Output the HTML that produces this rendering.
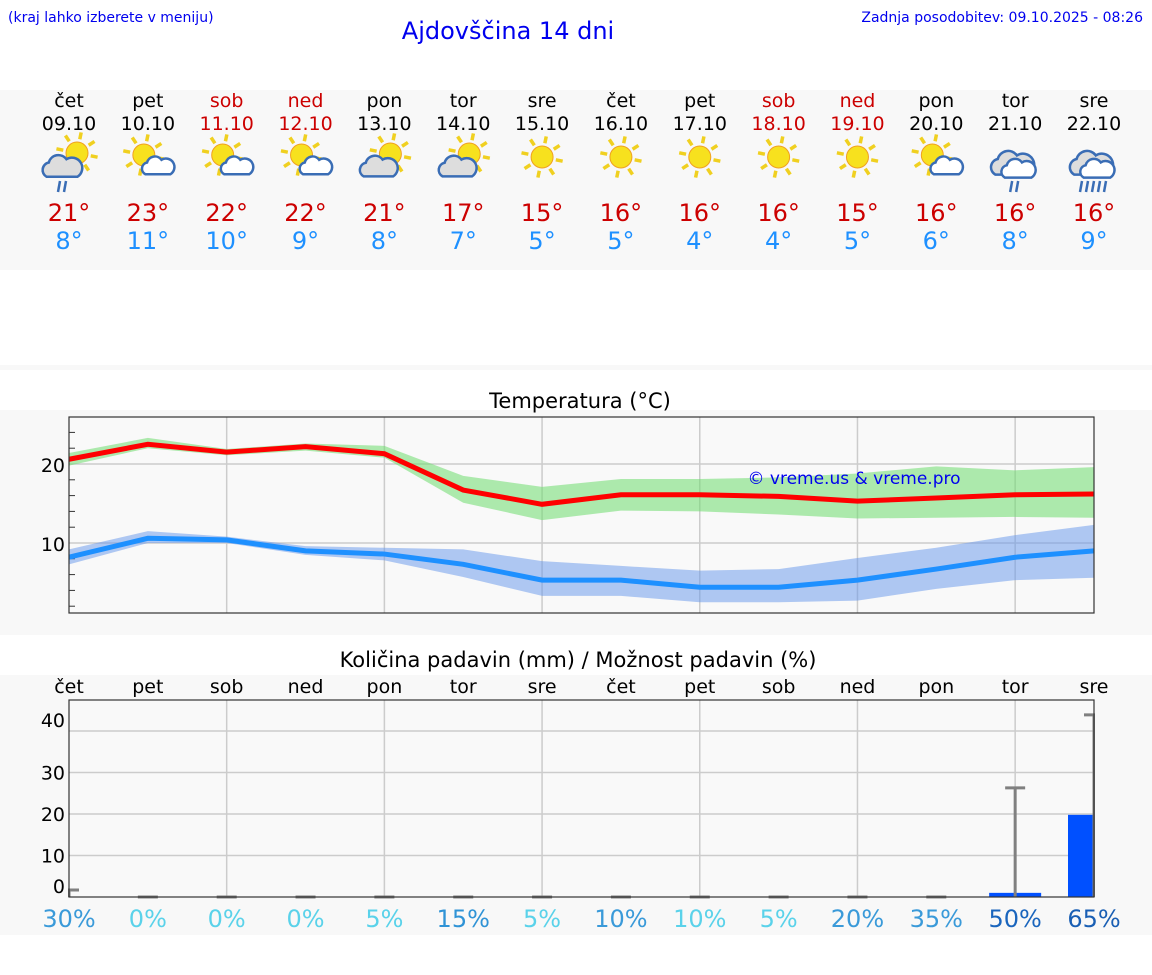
<!DOCTYPE html>
<html><head><meta charset="utf-8"><style>
body{margin:0;background:#fff;width:1152px;height:975px;overflow:hidden;font-family:"DejaVu Sans","Liberation Sans",sans-serif;}
svg{position:absolute;left:0;top:0}
</style></head><body>
<svg id="s" width="1152" height="975" xmlns="http://www.w3.org/2000/svg" font-family="DejaVu Sans, Liberation Sans, sans-serif">
<rect x="0" y="90" width="1152" height="180" fill="#f8f8f8"/>
<rect x="0" y="365" width="1152" height="5" fill="#f8f8f8"/>
<rect x="0" y="410" width="1152" height="225" fill="#f8f8f8"/>
<rect x="0" y="675" width="1152" height="260" fill="#f8f8f8"/>
<text x="8" y="22" font-size="14" fill="#0000ee">(kraj lahko izberete v meniju)</text>
<text x="508" y="39" font-size="24" fill="#0000ee" text-anchor="middle">Ajdovščina 14 dni</text>
<text x="1143" y="22" font-size="14" fill="#0000ee" text-anchor="end">Zadnja posodobitev: 09.10.2025 - 08:26</text>
<text x="580" y="408" font-size="21" fill="#000" text-anchor="middle">Temperatura (°C)</text>
<text x="578" y="667" font-size="21" fill="#000" text-anchor="middle">Količina padavin (mm) / Možnost padavin (%)</text>
<g id="topg"></g>
<g id="temp"></g>
<g id="prec"></g>
</svg>
<script>
const days=["čet","pet","sob","ned","pon","tor","sre","čet","pet","sob","ned","pon","tor","sre"];
const dates=["09.10","10.10","11.10","12.10","13.10","14.10","15.10","16.10","17.10","18.10","19.10","20.10","21.10","22.10"];
const weekend=[0,0,1,1,0,0,0,0,0,1,1,0,0,0];
const icons=["rainsun","partly","partly","partly","cloudsun","cloudsun","sun","sun","sun","sun","sun","partly","rain","rain2"];
const hiLabel=[21,23,22,22,21,17,15,16,16,16,15,16,16,16];
const loLabel=[8,11,10,9,8,7,5,5,4,4,5,6,8,9];
const tMax=[20.6,22.5,21.5,22.2,21.3,16.7,14.9,16.1,16.1,15.9,15.3,15.7,16.1,16.2];
const tMaxHi=[21.4,23.3,21.9,22.6,22.3,18.5,17.1,18.1,18.1,18.3,18.8,19.7,19.2,19.6];
const tMaxLow=[19.8,22.0,21.1,21.7,20.8,15.1,12.9,14.1,14.0,13.6,13.1,13.2,13.3,13.2];
const tMin=[8.2,10.6,10.4,9.0,8.6,7.3,5.3,5.3,4.4,4.4,5.3,6.7,8.2,9.0];
const tMinHi=[9.2,11.5,10.8,9.6,9.4,9.2,7.7,7.1,6.5,6.7,8.1,9.4,11.0,12.3];
const tMinLo=[7.3,10.0,10.0,8.5,7.8,5.7,3.3,3.3,2.5,2.5,2.7,4.2,5.3,5.6];
const tTicks=[10,20];
const rain=[0,0,0,0,0,0,0,0,0,0,0,0,1,19.8];
const rainErr=[1.7,0,0,0,0,0,0,0,0,0,0,0,26.3,43.9];
const chance=[30,0,0,0,5,15,5,10,10,5,20,35,50,65];
const chanceCol=["#3a9ad9","#5ad2ea","#5ad2ea","#5ad2ea","#5ad2ea","#2f93d6","#5ad2ea","#3a9ad9","#5ad2ea","#5ad2ea","#3a9ad9","#3a9ad9","#1a65bd","#1a5fb4"];
const pTicks=[0,10,20,30,40];

const NS="http://www.w3.org/2000/svg";
function mk(p,t,a,txt){const e=document.createElementNS(NS,t);for(const k in a)e.setAttribute(k,a[k]);if(txt!==undefined)e.textContent=txt;p.appendChild(e);return e;}
const X0=69,X1=1094,DX=(X1-X0)/13;
const xd=i=>X0+i*DX;
const yT=v=>622-v*7.9;
const yP=v=>897-v*4.15;

const topG=document.getElementById('topg');
function sun(g,cx,cy,r){for(let k=0;k<8;k++){const a=k*Math.PI/4+0.2;mk(g,'line',{x1:cx+Math.cos(a)*(r+3),y1:cy+Math.sin(a)*(r+3),x2:cx+Math.cos(a)*(r+10),y2:cy+Math.sin(a)*(r+10),stroke:'#f0d020','stroke-width':3.5});}
mk(g,'circle',{cx:cx,cy:cy,r:r,fill:'#f7e11e',stroke:'#f0a020','stroke-width':1});}
function cloud(g,cx,cy,s,fill){const p=`M${cx-14*s},${cy+8*s} a${7*s},${7*s} 0 0 1 ${2*s},${-13*s} a${9*s},${9*s} 0 0 1 ${16*s},${-3*s} a${7*s},${7*s} 0 0 1 ${10*s},${16*s} z`;mk(g,'path',{d:p,fill:fill,stroke:'#3a6db5','stroke-width':2.5});}
function drops(g,cx,cy,n){for(let k=0;k<n;k++)mk(g,'line',{x1:cx+k*6-n*3+3,y1:cy,x2:cx+k*6-n*3+1,y2:cy+11,stroke:'#3a6db5','stroke-width':2.5});}
for(let i=0;i<14;i++){
 const x=xd(i);
 const c=weekend[i]?'#cc0000':'#000';
 const t1=mk(topG,'text',{x:x,y:107,'font-size':19,fill:c,'text-anchor':'middle'},days[i]);
 
 
 const t2=mk(topG,'text',{x:x,y:130,'font-size':19,fill:c,'text-anchor':'middle'},dates[i]);
 
 
 const g=mk(topG,'g',{});
 
 
 const ic=icons[i];
 if(ic==='sun'){sun(g,x,157,11);}
 else if(ic==='partly'){sun(g,x-4,155,11);cloud(g,x+10,167,0.9,'#fff');}
 else if(ic==='cloudsun'){sun(g,x+6,154,11);cloud(g,x-6,168,1.05,'#ddd');}
 else if(ic==='rainsun'){sun(g,x+8,153,11);cloud(g,x-7,168,1.1,'#ddd');drops(g,x-6,181,2);}
 else {cloud(g,x-3,165,1.2,'#ddd');cloud(g,x+3,170,0.95,'#fff');drops(g,x,181,ic==='rain2'?5:2);}
 const h=mk(topG,'text',{x:x,y:221,'font-size':24,fill:'#cc0000','text-anchor':'middle'},hiLabel[i]+'°');
 
 
 const l=mk(topG,'text',{x:x,y:249,'font-size':24,fill:'#1e90ff','text-anchor':'middle'},loLabel[i]+'°');
 
 
}

const tg=document.getElementById('temp');
const pa=mk(tg,'rect',{x:X0,y:417,width:X1-X0,height:196,fill:'#f9f9f9',stroke:'none'});


for(let i=2;i<13;i+=2)mk(tg,'line',{x1:xd(i),y1:417,x2:xd(i),y2:613,stroke:'#ccc','stroke-width':1.5});
for(let v=2;v<=25;v+=2){ if(v%10)mk(tg,'line',{x1:X0,y1:yT(v),x2:X0+6,y2:yT(v),stroke:'#333'});}
tTicks.forEach(v=>{mk(tg,'line',{x1:X0,y1:yT(v),x2:X1,y2:yT(v),stroke:'#ccc','stroke-width':1.5});
 const t=mk(tg,'text',{x:X0-4,y:yT(v)+8,'font-size':19,'text-anchor':'end',fill:'#000'},String(v));
 
 });
function band(hi,lo,col,name){let d='';hi.forEach((v,i)=>d+=(i?'L':'M')+xd(i)+','+yT(v));for(let i=lo.length-1;i>=0;i--)d+='L'+xd(i)+','+yT(lo[i]);d+='Z';
 const p=mk(tg,'path',{d:d,fill:col});}
function line(a,col,name){const p=mk(tg,'polyline',{points:a.map((v,i)=>xd(i)+','+yT(v)).join(' '),fill:'none',stroke:col,'stroke-width':5});}
band(tMaxHi,tMaxLow,'rgba(110,220,110,0.55)','max-temp-range');
band(tMinHi,tMinLo,'rgba(100,150,235,0.5)','min-temp-range');
line(tMax,'#ff0000','max-temp-line');
line(tMin,'#1e90ff','min-temp-line');
const wm=mk(tg,'text',{x:854,y:484,'font-size':17,fill:'#0000ee','text-anchor':'middle'},'© vreme.us & vreme.pro');


mk(tg,'rect',{x:X0,y:417,width:X1-X0,height:196,fill:'none',stroke:'#333','stroke-width':1.2});

const pg=document.getElementById('prec');
mk(pg,'rect',{x:X0,y:700,width:X1-X0,height:197,fill:'#f9f9f9'});
for(let i=2;i<13;i+=2)mk(pg,'line',{x1:xd(i),y1:700,x2:xd(i),y2:897,stroke:'#ccc','stroke-width':1.5});
pTicks.forEach(v=>{ if(v>0)mk(pg,'line',{x1:X0,y1:yP(v),x2:X1,y2:yP(v),stroke:'#ccc','stroke-width':1.5});});
for(let i=0;i<14;i++){
 const x=xd(i);
 const d=mk(pg,'text',{x:x,y:693,'font-size':19,'text-anchor':'middle',fill:'#000'},days[i]);
 
 
 if(rain[i]>0){const b=mk(pg,'rect',{x:x-26,y:yP(rain[i]),width:52,height:897-yP(rain[i]),fill:'#0050ff'});
  
  }
 const e=mk(pg,'g',{});
 
 
 mk(e,'line',{x1:x,y1:897,x2:x,y2:yP(rainErr[i]),stroke:'#808080','stroke-width':3});
 mk(e,'line',{x1:x-10,y1:yP(rainErr[i]),x2:x+10,y2:yP(rainErr[i]),stroke:'#808080','stroke-width':3});
 const c=mk(pg,'text',{x:x,y:927,'font-size':24,'text-anchor':'middle',fill:chanceCol[i]},chance[i]+'%');
 
 
}
mk(pg,'rect',{x:0,y:700,width:X0-1,height:200,fill:'#f8f8f8'});
mk(pg,'rect',{x:X1+1,y:700,width:58,height:200,fill:'#f8f8f8'});
pTicks.forEach(v=>{const t=mk(pg,'text',{x:X0-4,y:yP(v)+(v===40?-4:(v===0?-4:7)),'font-size':19,'text-anchor':'end',fill:'#000'},String(v));
 
 });
mk(pg,'rect',{x:X0,y:700,width:X1-X0,height:197,fill:'none',stroke:'#333','stroke-width':1.2});
</script>
</body></html>
